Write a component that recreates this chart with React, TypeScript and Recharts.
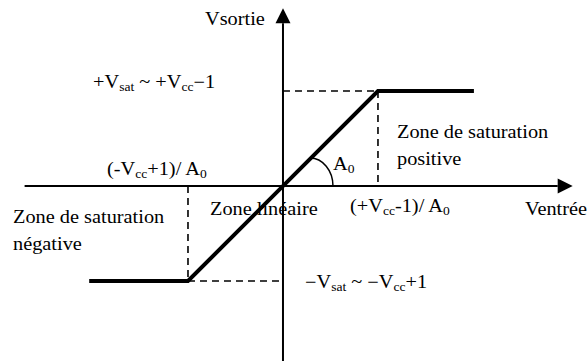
import React from "react";
import {
  LineChart,
  Line,
  XAxis,
  YAxis,
  ReferenceLine,
  ReferenceDot,
} from "recharts";

// transfer characteristic (normalised: saturation = ±1, threshold = ±1)
const inputV = [-2.04, -1, 1, 2.01];
const outputV = [-1, -1, 1, 1];
const threshold = 1;
const vsat = 1;

const data = inputV.map((x, i) => ({ x, y: outputV[i] }));

const FONT = "'Liberation Serif', 'Times New Roman', serif";

const Arrow = (props: any) => {
  const { x1, y1, x2, y2 } = props;
  const dx = x2 - x1;
  const dy = y2 - y1;
  const len = Math.sqrt(dx * dx + dy * dy) || 1;
  const ux = dx / len;
  const uy = dy / len;
  const bx = x2 - ux * 15;
  const by = y2 - uy * 15;
  return (
    <g>
      <line x1={x1} y1={y1} x2={bx} y2={by} stroke="#000" strokeWidth={2} />
      <polygon
        points={`${x2},${y2} ${bx - uy * 7.5},${by + ux * 7.5} ${bx + uy * 7.5},${by - ux * 7.5}`}
        fill="#000"
      />
    </g>
  );
};

const Sub = ({ children }: { children: React.ReactNode }) => (
  <tspan fontSize={12} dy={3}>
    {children}
  </tspan>
);

const T = ({ dx, dy, cx, cy, children }: any) => (
  <text
    transform={`translate(${cx + dx},${cy + dy}) scale(1.13,1)`}
    fontFamily={FONT}
    fontSize={18}
    fill="#000"
  >
    {children}
  </text>
);

const Annotations = (props: any) => {
  const { cx, cy } = props;
  const p = { cx, cy };
  return (
    <g>
      <path
        d={`M${cx + 27},${cy - 28} A23 28 0 0 1 ${cx + 50},${cy}`}
        fill="none"
        stroke="#000"
        strokeWidth={1.5}
      />
      <T {...p} dx={-78} dy={-161}>Vsortie</T>
      <T {...p} dx={-190} dy={-98}>
        +V<Sub>sat</Sub>
        <tspan dy={-3}> ~ +V</tspan>
        <Sub>cc</Sub>
        <tspan dy={-3}>−1</tspan>
      </T>
      <T {...p} dx={-176} dy={-11}>
        (-V<Sub>cc</Sub>
        <tspan dy={-3}>+1)/ A</tspan>
        <Sub>0</Sub>
      </T>
      <T {...p} dx={-270} dy={37}>Zone de saturation</T>
      <T {...p} dx={-270} dy={64}>négative</T>
      <T {...p} dx={-73} dy={29}>Zone linéaire</T>
      <T {...p} dx={67} dy={26}>
        (+V<Sub>cc</Sub>
        <tspan dy={-3}>-1)/ A</tspan>
        <Sub>0</Sub>
      </T>
      <T {...p} dx={242} dy={29}>Ventrée</T>
      <T {...p} dx={22} dy={102}>
        −V<Sub>sat</Sub>
        <tspan dy={-3}> ~ −V</tspan>
        <Sub>cc</Sub>
        <tspan dy={-3}>+1</tspan>
      </T>
      <T {...p} dx={114} dy={-48}>Zone de saturation</T>
      <T {...p} dx={114} dy={-21}>positive</T>
      <T {...p} dx={50} dy={-16}>
        A<Sub>0</Sub>
      </T>
    </g>
  );
};

const dash = { stroke: "#000", strokeWidth: 1.6, strokeDasharray: "7 5" };

export default function App() {
  return (
    <div style={{ position: "absolute", left: 0, top: 0, background: "#fff" }}>
      <LineChart
        width={588}
        height={361}
        data={data}
        margin={{ top: 0, right: 0, bottom: 0, left: 0 }}
      >
        <XAxis dataKey="x" type="number" domain={[-2.979, 3.211]} hide />
        <YAxis type="number" domain={[-1.842, 1.958]} hide />
        <ReferenceDot x={0} y={0} r={0} ifOverflow="visible" shape={Annotations} />
        <ReferenceLine
          segment={[{ x: -2.72, y: 0 }, { x: 3.05, y: 0 }]}
          ifOverflow="visible"
          shape={Arrow}
        />
        <ReferenceLine
          segment={[{ x: 0, y: -1.842 }, { x: 0, y: 1.87 }]}
          ifOverflow="visible"
          shape={Arrow}
        />
        <ReferenceLine segment={[{ x: -threshold, y: 0 }, { x: -threshold, y: -vsat }]} ifOverflow="visible" {...dash} />
        <ReferenceLine segment={[{ x: -threshold, y: -vsat }, { x: 0, y: -vsat }]} ifOverflow="visible" {...dash} />
        <ReferenceLine segment={[{ x: 0, y: vsat }, { x: threshold, y: vsat }]} ifOverflow="visible" {...dash} />
        <ReferenceLine segment={[{ x: threshold, y: vsat }, { x: threshold, y: 0 }]} ifOverflow="visible" {...dash} />
        <Line
          dataKey="y"
          type="linear"
          stroke="#000"
          strokeWidth={4}
          dot={false}
          activeDot={false}
          isAnimationActive={false}
        />
      </LineChart>
    </div>
  );
}
